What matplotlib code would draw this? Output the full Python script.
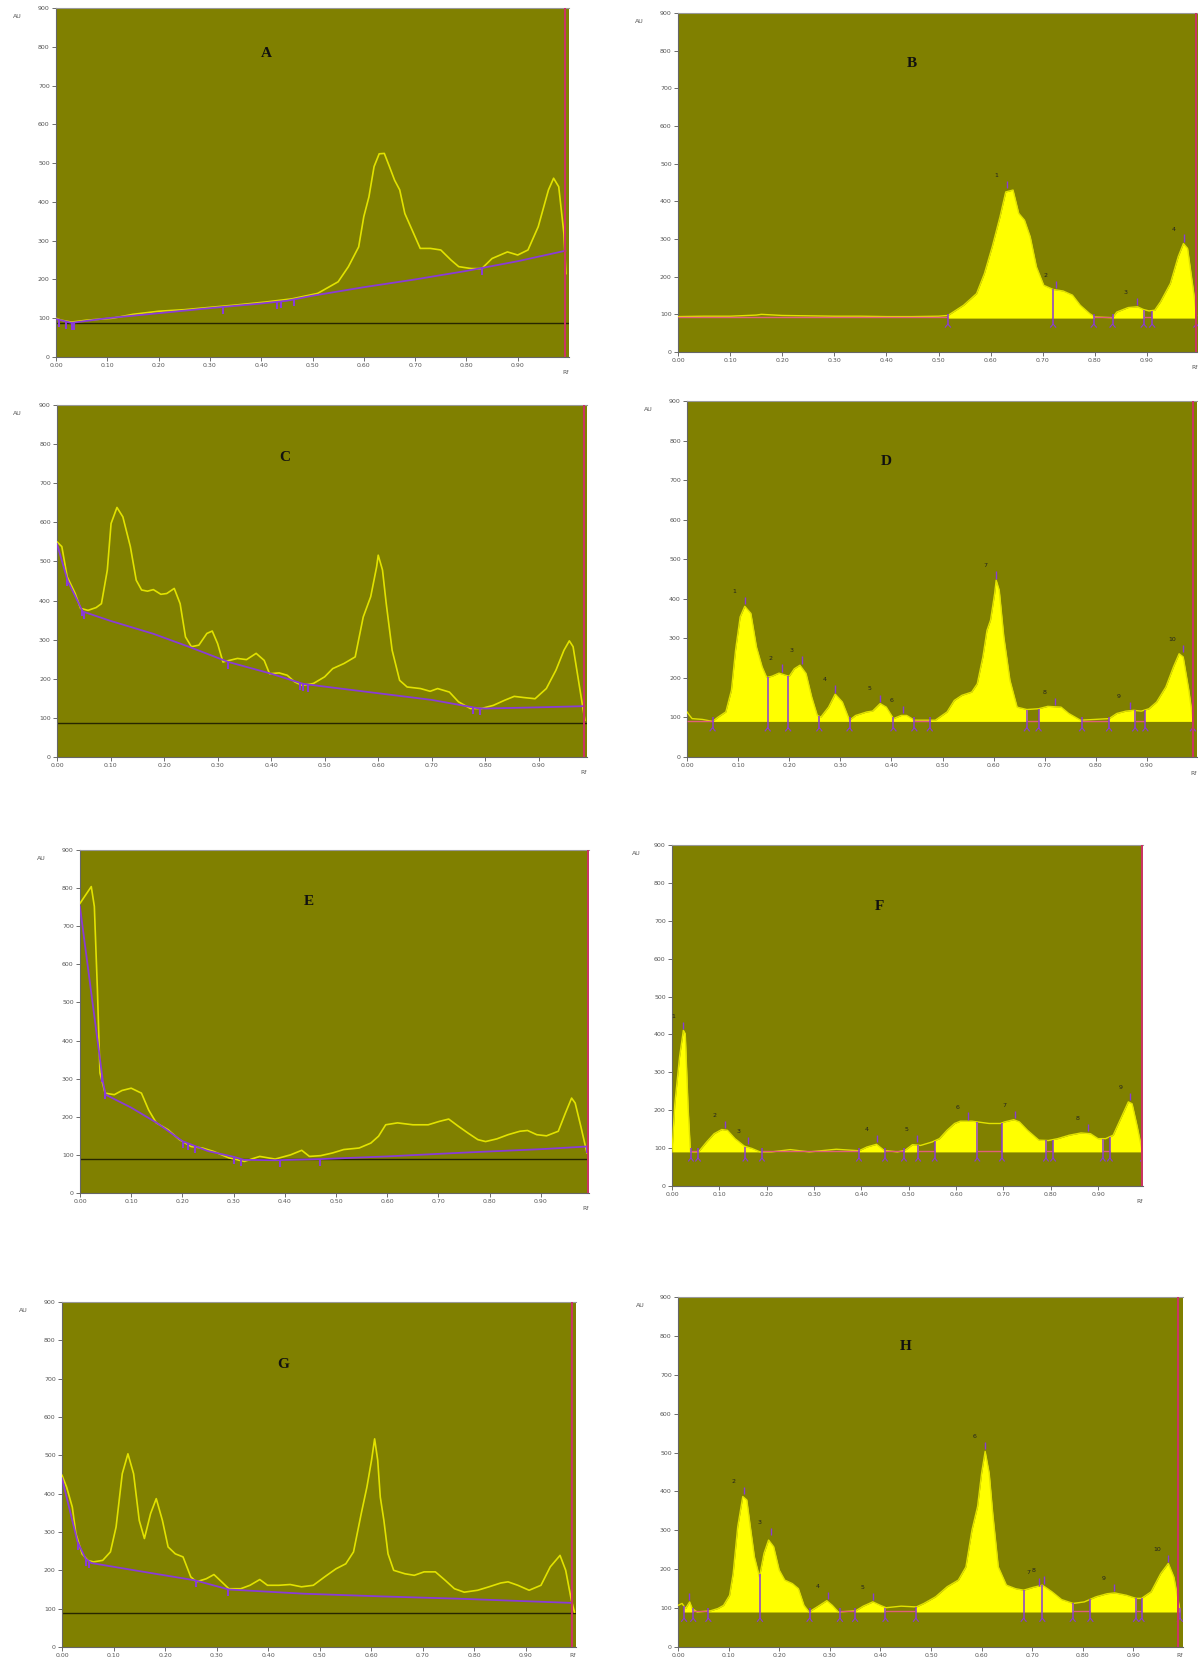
import numpy as np
import matplotlib
matplotlib.use("Agg")
import matplotlib.pyplot as plt
from matplotlib.patches import Rectangle

OLIVE = "#808000"
FILL = "#ffff00"
LINE = "#e2e200"
PURPLE = "#8a3cd6"
PINK = "#e0607a"
RED = "#cc3366"

xtick_vals = [0.0, 0.1, 0.2, 0.3, 0.4, 0.5, 0.6, 0.7, 0.8, 0.9]
xtick_labels = ["0.00", "0.10", "0.20", "0.30", "0.40", "0.50", "0.60", "0.70", "0.80", "0.90"]
ytick_vals = [0, 100, 200, 300, 400, 500, 600, 700, 800, 900]

# ---------------- A (raw track) ----------------
a_rf = [0.0, 0.01, 0.03, 0.06, 0.11, 0.15, 0.20, 0.25, 0.30, 0.35, 0.41, 0.46, 0.51, 0.55, 0.57,
        0.59, 0.60, 0.61, 0.62, 0.63, 0.64, 0.65, 0.66, 0.67, 0.68, 0.70, 0.71, 0.73, 0.75, 0.77,
        0.785, 0.81, 0.83, 0.85, 0.88, 0.90, 0.92, 0.94, 0.96, 0.97, 0.98, 0.99, 0.994]
a_au = [100, 95, 90, 95, 100, 110, 118, 122, 128, 134, 142, 150, 164, 194, 233,
        284, 362, 413, 491, 524, 525, 491, 456, 431, 370, 310, 280, 280, 276, 250,
        233, 228, 228, 254, 271, 263, 276, 336, 431, 461, 439, 319, 215]
a_base_rf = [0.0, 0.03, 0.1, 0.2, 0.3, 0.4, 0.45, 0.5, 0.6, 0.7, 0.8, 0.9, 0.993]
a_base_au = [98, 88, 100, 113, 126, 138, 145, 158, 180, 200, 222, 247, 274]
a_marks = [0.005, 0.02, 0.031, 0.035, 0.325, 0.43, 0.438, 0.464, 0.831]

# ---------------- B (integrated) ----------------
b_rf = [0.0, 0.05, 0.10, 0.15, 0.16, 0.2, 0.25, 0.3, 0.35, 0.4, 0.45, 0.5, 0.518, 0.548, 0.573,
        0.588, 0.603, 0.618, 0.629, 0.643, 0.654, 0.665, 0.676, 0.688, 0.702, 0.72, 0.739, 0.757,
        0.772, 0.79, 0.80, 0.834, 0.842, 0.864, 0.882, 0.893, 0.904, 0.915, 0.926, 0.945, 0.96,
        0.97, 0.978, 0.99, 0.995]
b_au = [94, 95, 95, 98, 100, 97, 96, 95, 95, 94, 94, 95, 97, 124, 155,
        208, 279, 359, 425, 430, 368, 350, 306, 226, 177, 166, 162, 151,
        124, 102, 93, 91, 106, 118, 120, 113, 109, 111, 133, 182, 253,
        288, 275, 155, 97]
b_windows = [(0.518, 0.72), (0.72, 0.798), (0.834, 0.894), (0.91, 0.995)]
b_gaps = [(0.0, 0.518), (0.798, 0.834), (0.894, 0.91)]
b_peak_rf = [0.632, 0.726, 0.88, 0.972]
b_peak_au = [432, 166, 121, 290]
b_peak_lab = ["1", "2", "3", "4"]

# ---------------- C (raw track) ----------------
c_rf = [0.0, 0.009, 0.019, 0.034, 0.044, 0.058, 0.073, 0.083, 0.094, 0.101, 0.112, 0.123, 0.137,
        0.148, 0.158, 0.169, 0.18, 0.194, 0.205, 0.219, 0.23, 0.24, 0.251, 0.265, 0.28, 0.29,
        0.30, 0.31, 0.322, 0.337, 0.354, 0.372, 0.387, 0.397, 0.415, 0.43, 0.444, 0.458, 0.479,
        0.50, 0.515, 0.536, 0.557, 0.572, 0.586, 0.597, 0.60, 0.608, 0.615, 0.626, 0.64, 0.654,
        0.679, 0.697, 0.711, 0.733, 0.75, 0.772, 0.793, 0.815, 0.836, 0.854, 0.872, 0.893, 0.914,
        0.932, 0.947, 0.957, 0.964, 0.975, 0.986]
c_au = [550, 538, 461, 418, 380, 375, 382, 392, 478, 597, 638, 614, 538,
        452, 427, 424, 428, 416, 418, 431, 392, 307, 282, 286, 316, 322,
        290, 243, 247, 252, 249, 265, 247, 213, 215, 209, 192, 183, 188,
        205, 226, 239, 256, 358, 410, 486, 516, 478, 392, 273, 196, 179,
        175, 168, 175, 166, 141, 124, 124, 132, 145, 155, 152, 149, 175,
        222, 273, 297, 282, 188, 94]
c_base_rf = [0.0, 0.02, 0.048, 0.1, 0.18, 0.25, 0.32, 0.4, 0.46, 0.5, 0.6, 0.7, 0.785, 0.8, 0.9, 0.985]
c_base_au = [545, 450, 372, 348, 315, 280, 243, 213, 187, 180, 163, 146, 125, 124, 127, 130]
c_marks = [0.019, 0.046, 0.05, 0.319, 0.454, 0.46, 0.469, 0.777, 0.79]

# ---------------- D (integrated) ----------------
d_rf = [0.0, 0.005, 0.01, 0.03, 0.05, 0.061, 0.076, 0.087, 0.095, 0.104, 0.113, 0.125, 0.136,
        0.147, 0.156, 0.166, 0.18, 0.192, 0.20, 0.21, 0.221, 0.233, 0.244, 0.255, 0.262, 0.277,
        0.29, 0.304, 0.318, 0.33, 0.352, 0.363, 0.378, 0.39, 0.404, 0.419, 0.43, 0.445, 0.486,
        0.509, 0.523, 0.538, 0.557, 0.568, 0.579, 0.587, 0.594, 0.602, 0.605, 0.611, 0.62, 0.632,
        0.646, 0.665, 0.688, 0.706, 0.732, 0.747, 0.77, 0.826, 0.841, 0.859, 0.874, 0.889, 0.904,
        0.919, 0.937, 0.952, 0.963, 0.971, 0.982, 0.99]
d_au = [114, 105, 97, 95, 90, 101, 114, 169, 270, 354, 381, 363, 278,
        228, 201, 204, 212, 207, 204, 223, 232, 211, 152, 105, 101, 126,
        159, 139, 93, 105, 114, 116, 135, 126, 97, 105, 105, 93, 93,
        114, 143, 156, 164, 185, 253, 320, 346, 413, 447, 422, 304, 194,
        126, 120, 122, 128, 126, 110, 93, 97, 110, 116, 118, 116, 122,
        139, 177, 228, 261, 253, 169, 93]
d_windows = [(0.05, 0.158), (0.158, 0.198), (0.198, 0.259), (0.259, 0.318), (0.318, 0.404),
             (0.404, 0.445), (0.475, 0.665), (0.688, 0.773), (0.826, 0.877), (0.897, 0.99)]
d_gaps = [(0.0, 0.05), (0.445, 0.475), (0.665, 0.688), (0.773, 0.826), (0.877, 0.897)]
d_peak_rf = [0.113, 0.185, 0.225, 0.29, 0.378, 0.422, 0.605, 0.72, 0.866, 0.97]
d_peak_au = [383, 213, 233, 160, 136, 108, 448, 128, 118, 262]
d_peak_lab = ["1", "2", "3", "4", "5", "6", "7", "8", "9", "10"]

# ---------------- E (raw track) ----------------
e_rf = [0.0, 0.011, 0.022, 0.028, 0.034, 0.039, 0.049, 0.067, 0.082, 0.10, 0.12, 0.134, 0.149,
        0.172, 0.194, 0.217, 0.239, 0.261, 0.291, 0.321, 0.351, 0.381, 0.411, 0.433, 0.448, 0.47,
        0.493, 0.515, 0.545, 0.568, 0.583, 0.597, 0.62, 0.65, 0.68, 0.702, 0.72, 0.739, 0.758,
        0.777, 0.792, 0.814, 0.836, 0.859, 0.874, 0.892, 0.911, 0.934, 0.948, 0.96, 0.967, 0.978, 0.99]
e_au = [760, 782, 804, 752, 533, 315, 262, 258, 269, 275, 262, 218, 184,
        166, 140, 122, 118, 109, 92, 83, 96, 89, 100, 112, 96, 98,
        105, 114, 118, 131, 149, 179, 184, 179, 179, 188, 194, 175, 157,
        140, 135, 142, 153, 162, 164, 153, 150, 162, 210, 249, 236, 175, 105]
e_base_rf = [0.0, 0.045, 0.05, 0.1, 0.15, 0.2, 0.25, 0.3, 0.32, 0.38, 0.47, 0.6, 0.75, 0.9, 0.99]
e_base_au = [750, 290, 258, 224, 184, 136, 110, 95, 87, 86, 89, 96, 106, 115, 122]
e_marks = [0.043, 0.049, 0.202, 0.21, 0.224, 0.3, 0.315, 0.39, 0.469, 0.991]

# ---------------- F (integrated) ----------------
f_rf = [0.0, 0.006, 0.016, 0.024, 0.028, 0.034, 0.039, 0.056, 0.073, 0.089, 0.105, 0.117, 0.133,
        0.153, 0.169, 0.186, 0.21, 0.25, 0.29, 0.347, 0.395, 0.412, 0.432, 0.448, 0.476, 0.492,
        0.508, 0.525, 0.549, 0.565, 0.581, 0.597, 0.609, 0.634, 0.646, 0.67, 0.694, 0.702, 0.722,
        0.734, 0.751, 0.775, 0.795, 0.815, 0.839, 0.864, 0.884, 0.9, 0.916, 0.932, 0.948, 0.964,
        0.972, 0.983, 0.993]
f_au = [90, 217, 341, 411, 402, 208, 90, 90, 116, 138, 149, 147, 125,
        105, 99, 90, 90, 96, 90, 97, 93, 103, 110, 94, 90, 94,
        109, 107, 116, 125, 147, 165, 171, 171, 169, 165, 165, 169, 175,
        169, 147, 121, 120, 125, 134, 140, 138, 125, 125, 134, 178, 222,
        217, 156, 94]
f_windows = [(0.0, 0.04), (0.055, 0.155), (0.155, 0.19), (0.395, 0.45), (0.49, 0.52),
             (0.555, 0.645), (0.697, 0.79), (0.805, 0.91), (0.925, 0.995)]
f_gaps = [(0.04, 0.055), (0.19, 0.395), (0.45, 0.49), (0.52, 0.555), (0.645, 0.697),
          (0.79, 0.805), (0.91, 0.925)]
f_peak_rf = [0.024, 0.111, 0.161, 0.433, 0.517, 0.625, 0.724, 0.878, 0.968]
f_peak_au = [412, 150, 108, 112, 112, 172, 176, 141, 223]
f_peak_lab = ["1", "2", "3", "4", "5", "6", "7", "8", "9"]

# ---------------- G (raw track) ----------------
g_rf = [0.0, 0.009, 0.02, 0.027, 0.039, 0.05, 0.061, 0.079, 0.094, 0.105, 0.117, 0.128, 0.139,
        0.15, 0.16, 0.172, 0.183, 0.195, 0.206, 0.22, 0.235, 0.25, 0.261, 0.28, 0.295, 0.31,
        0.324, 0.347, 0.365, 0.384, 0.399, 0.421, 0.443, 0.465, 0.488, 0.51, 0.532, 0.551, 0.566,
        0.581, 0.592, 0.601, 0.607, 0.613, 0.618, 0.625, 0.633, 0.644, 0.666, 0.684, 0.703, 0.725,
        0.744, 0.762, 0.781, 0.807, 0.829, 0.852, 0.866, 0.885, 0.907, 0.93, 0.948, 0.967, 0.978,
        0.989, 0.995]
g_au = [448, 417, 365, 296, 243, 226, 222, 226, 248, 313, 452, 504, 452,
        330, 283, 348, 387, 330, 261, 243, 235, 183, 170, 178, 189, 170,
        152, 152, 161, 176, 161, 161, 163, 157, 161, 183, 204, 217, 248,
        348, 417, 487, 543, 487, 391, 330, 243, 200, 191, 187, 196, 196,
        174, 152, 143, 148, 157, 167, 170, 161, 148, 161, 209, 239, 200,
        122, 91]
g_base_rf = [0.0, 0.03, 0.046, 0.057, 0.15, 0.258, 0.324, 0.47, 0.62, 0.77, 0.99]
g_base_au = [440, 275, 230, 219, 198, 174, 150, 139, 132, 126, 115]
g_marks = [0.031, 0.046, 0.053, 0.26, 0.322]

# ---------------- H (integrated) ----------------
h_rf = [0.0, 0.008, 0.015, 0.023, 0.028, 0.038, 0.064, 0.079, 0.09, 0.102, 0.109, 0.118, 0.128,
        0.136, 0.143, 0.151, 0.161, 0.17, 0.179, 0.189, 0.2, 0.211, 0.226, 0.238, 0.249, 0.259,
        0.275, 0.294, 0.305, 0.317, 0.351, 0.366, 0.385, 0.4, 0.411, 0.441, 0.471, 0.486, 0.509,
        0.532, 0.554, 0.569, 0.581, 0.592, 0.6, 0.607, 0.615, 0.622, 0.633, 0.649, 0.667, 0.683,
        0.701, 0.72, 0.739, 0.758, 0.781, 0.803, 0.826, 0.848, 0.863, 0.886, 0.905, 0.916, 0.935,
        0.954, 0.969, 0.98, 0.992]
h_au = [107, 112, 99, 116, 99, 90, 93, 99, 107, 133, 189, 309, 387,
        378, 309, 232, 180, 241, 275, 258, 198, 172, 163, 150, 107, 90,
        103, 119, 107, 90, 93, 105, 116, 107, 101, 105, 103, 112, 129,
        155, 172, 206, 301, 361, 447, 503, 447, 344, 206, 159, 150, 146,
        153, 159, 142, 122, 112, 116, 129, 137, 139, 133, 125, 125, 142,
        189, 215, 180, 95]
h_windows = [(0.012, 0.03), (0.06, 0.162), (0.162, 0.26), (0.26, 0.32), (0.35, 0.41),
             (0.47, 0.683), (0.683, 0.72), (0.72, 0.78), (0.815, 0.905), (0.916, 0.992)]
h_gaps = [(0.03, 0.06), (0.32, 0.35), (0.41, 0.47), (0.78, 0.815), (0.905, 0.916)]
h_peak_rf = [0.022, 0.13, 0.183, 0.297, 0.386, 0.607, 0.713, 0.724, 0.862, 0.968]
h_peak_au = [118, 390, 285, 120, 117, 505, 155, 160, 140, 215]
h_peak_lab = ["", "2", "3", "4", "5", "6", "7", "8", "9", "10"]

# panel frames in pixels: left, right, top, bottom ; plus x-extent, red line, title place
W, H = 1198, 1663
frames = {"A": (56, 569, 8, 357), "B": (678, 1198, 13, 352),
          "C": (57, 587, 405, 757), "D": (687, 1197, 401, 757),
          "E": (80, 589, 850, 1193), "F": (672, 1143, 845, 1186),
          "G": (62, 576, 1302, 1647), "H": (678, 1183, 1297, 1647)}
xmax = {"A": 1.0, "B": 0.998, "C": 0.99, "D": 0.998, "E": 0.994, "F": 0.995, "G": 0.998, "H": 0.998}
red_x = {"A": 0.993, "B": 0.995, "C": 0.984, "D": 0.99, "E": 0.993, "F": 0.992, "G": 0.99, "H": 0.988}
title_pos = {"A": (0.41, 0.87), "B": (0.45, 0.85), "C": (0.43, 0.85), "D": (0.39, 0.83),
             "E": (0.45, 0.85), "F": (0.44, 0.82), "G": (0.43, 0.82), "H": (0.45, 0.86)}
rf_label_y = {"A": -0.045, "B": -0.045, "C": -0.045, "D": -0.045,
              "E": -0.045, "F": -0.045, "G": -0.025, "H": -0.025}


def make_axes(fig, key):
    l, r, t, b = frames[key]
    ax = fig.add_axes([l / W, 1 - b / H, (r - l) / W, (b - t) / H])
    ax.set_facecolor(OLIVE)
    ax.set_xlim(0, xmax[key])
    ax.set_ylim(0, 900)
    ax.set_xticks(xtick_vals)
    ax.set_xticklabels(xtick_labels)
    ax.set_yticks(ytick_vals)
    ax.tick_params(direction="out", length=3, width=0.6, labelsize=4.5,
                   colors="#555555", pad=1.5)
    for s in ["left", "bottom"]:
        ax.spines[s].set_color("#666666")
        ax.spines[s].set_linewidth(0.8)
    ax.spines["top"].set_color("#999999")
    ax.spines["top"].set_linewidth(0.8)
    ax.spines["right"].set_visible(False)
    ax.axvline(red_x[key], color=RED, lw=1.4, zorder=6)
    ax.text(-0.075, 0.975, "AU", transform=ax.transAxes, fontsize=4.5, color="#555555",
            ha="center", va="center")
    ax.text(1.0, rf_label_y[key], "Rf", transform=ax.transAxes, fontsize=4.5, color="#555555",
            ha="right", va="center")
    tx, ty = title_pos[key]
    ax.text(tx, ty, key, transform=ax.transAxes, fontsize=11, fontweight="bold",
            family="Liberation Serif", color="#111111", ha="center", va="center")
    return ax


def draw_raw(ax, rf, au, base_rf, base_au, marks):
    ax.axhline(88, color="#262600", lw=1.0, zorder=2)
    ax.plot(rf, au, color=LINE, lw=1.2, zorder=3)
    ax.plot(base_rf, base_au, color=PURPLE, lw=1.3, zorder=4)
    for m in marks:
        y = np.interp(m, base_rf, base_au)
        ax.vlines(m, y - 18, y, color=PURPLE, lw=1.5, zorder=5)


def draw_integrated(ax, rf, au, windows, gaps, peak_rf, peak_au, peak_lab):
    top = np.maximum(au, 90)
    ax.plot(rf, au, color=LINE, lw=1.0, zorder=3)
    for a, b in windows:
        poly = ax.fill_between(rf, 90, top, color=FILL, lw=0, zorder=2)
        poly.set_clip_path(Rectangle((a, 0), b - a, 900, transform=ax.transData))
    for a, b in gaps:
        ax.hlines(92, a, b, color=PINK, lw=1.0, zorder=4)
    edges = sorted(set([e for w in windows + gaps for e in w]))
    for e in edges:
        if e <= 0.0:
            continue
        y = np.interp(e, rf, au)
        ax.vlines(e, 72, max(y, 100), color=PURPLE, lw=1.1, zorder=5)
        ax.plot([e - 0.005, e, e + 0.005], [66, 74, 66], color=PURPLE, lw=0.8, zorder=5)
    for x, y, lab in zip(peak_rf, peak_au, peak_lab):
        ax.vlines(x, y + 3, y + 22, color=PURPLE, lw=1.0, zorder=5)
        if lab:
            ax.text(x - 0.021, y + 36, lab, fontsize=4.5, color="#222222",
                    ha="center", va="center", zorder=6)


fig = plt.figure(figsize=(W / 100, H / 100), dpi=100)

ax = make_axes(fig, "A")
draw_raw(ax, a_rf, a_au, a_base_rf, a_base_au, a_marks)
ax = make_axes(fig, "B")
draw_integrated(ax, b_rf, b_au, b_windows, b_gaps, b_peak_rf, b_peak_au, b_peak_lab)
ax = make_axes(fig, "C")
draw_raw(ax, c_rf, c_au, c_base_rf, c_base_au, c_marks)
ax = make_axes(fig, "D")
draw_integrated(ax, d_rf, d_au, d_windows, d_gaps, d_peak_rf, d_peak_au, d_peak_lab)
ax = make_axes(fig, "E")
draw_raw(ax, e_rf, e_au, e_base_rf, e_base_au, e_marks)
ax = make_axes(fig, "F")
draw_integrated(ax, f_rf, f_au, f_windows, f_gaps, f_peak_rf, f_peak_au, f_peak_lab)
ax = make_axes(fig, "G")
draw_raw(ax, g_rf, g_au, g_base_rf, g_base_au, g_marks)
ax = make_axes(fig, "H")
draw_integrated(ax, h_rf, h_au, h_windows, h_gaps, h_peak_rf, h_peak_au, h_peak_lab)

fig.savefig("out.png", dpi=100, facecolor="white")
